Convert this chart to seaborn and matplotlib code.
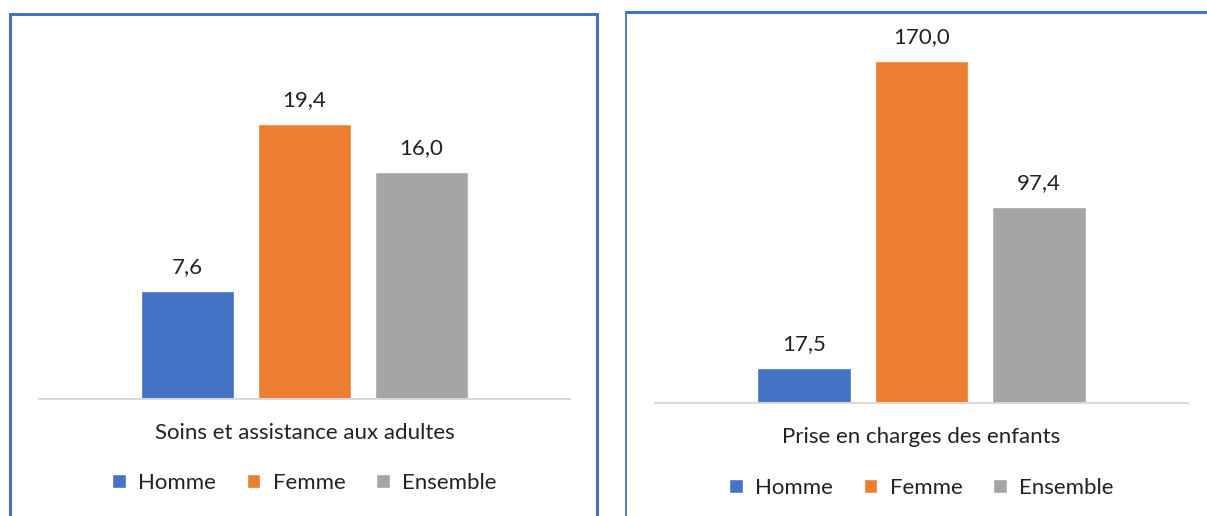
import matplotlib
matplotlib.use("Agg")
import matplotlib.pyplot as plt
import seaborn as sns
import pandas as pd

# Data
sexes = ["Homme", "Femme", "Ensemble"]
soins_adultes = [7.6, 19.4, 16.0]
prise_enfants = [17.5, 170.0, 97.4]
categories = ["Soins et assistance aux adultes", "Prise en charges des enfants"]
colors = ["#4472C4", "#ED7D31", "#A5A5A5"]

sns.set_theme(style="white")
plt.rcParams["font.family"] = ["Lato", "DejaVu Sans"]

W, H = 1207, 516
fig = plt.figure(figsize=(W / 100, H / 100), dpi=100)


def px_axes(x0, x1, y_top, y_bot):
    return fig.add_axes([x0 / W, 1 - y_bot / H, (x1 - x0) / W, (y_bot - y_top) / H])


panels = [
    # values, category, axes px (x0, x1, ytop, ybot), ymax, legend y
    (soins_adultes, categories[0], (39, 570, 40, 399), 25.3, 483),
    (prise_enfants, categories[1], (655, 1188, 30, 403), 185.6, 488),
]

FS = 16

for values, cat, (x0, x1, yt, yb), ymax, leg_y in panels:
    ax = px_axes(x0, x1, yt, yb)
    df = pd.DataFrame({"cat": [cat] * 3, "sexe": sexes, "val": values})
    sns.barplot(data=df, x="cat", y="val", hue="sexe", hue_order=sexes,
                palette=colors, width=0.66, gap=0.2, saturation=1,
                ax=ax, legend=True)
    ax.set_xlim(-0.5, 0.5)
    ax.set_ylim(0, ymax)
    ax.set_yticks([])
    ax.set_xlabel("")
    ax.set_ylabel("")
    for s in ["top", "left", "right"]:
        ax.spines[s].set_visible(False)
    ax.spines["bottom"].set_color("#D9D9D9")
    ax.spines["bottom"].set_linewidth(1.5)
    ax.tick_params(axis="x", length=0, pad=17, labelsize=FS, labelcolor="#222222")
    for cont in ax.containers:
        ax.bar_label(cont, labels=[f"{v:.1f}".replace(".", ",") for v in cont.datavalues],
                     padding=10, fontsize=FS, color="#222222")
    sns.move_legend(ax, "center", bbox_to_anchor=((x0 + x1) / 2 / W, 1 - leg_y / H),
                    bbox_transform=fig.transFigure, ncol=3, frameon=False, title=None,
                    fontsize=FS, handlelength=0.6, handleheight=0.6,
                    columnspacing=1.4, handletextpad=0.55)
    for t in ax.get_legend().get_texts():
        t.set_color("#222222")

# Panel borders
border = "#4472C4"
fig.add_artist(plt.Line2D([10 / W, 10 / W], [0, 1 - 14 / H], color=border, lw=2.2, transform=fig.transFigure))
fig.add_artist(plt.Line2D([10 / W, 597 / W], [1 - 14 / H, 1 - 14 / H], color=border, lw=2.2, transform=fig.transFigure))
fig.add_artist(plt.Line2D([597 / W, 597 / W], [0, 1 - 14 / H], color=border, lw=2.2, transform=fig.transFigure))
fig.add_artist(plt.Line2D([626 / W, 626 / W], [0, 1 - 12 / H], color=border, lw=1.3, transform=fig.transFigure))
fig.add_artist(plt.Line2D([626 / W, 1 + 0.01], [1 - 12 / H, 1 - 12 / H], color=border, lw=2.2, transform=fig.transFigure))

fig.savefig("out.png", dpi=100)
